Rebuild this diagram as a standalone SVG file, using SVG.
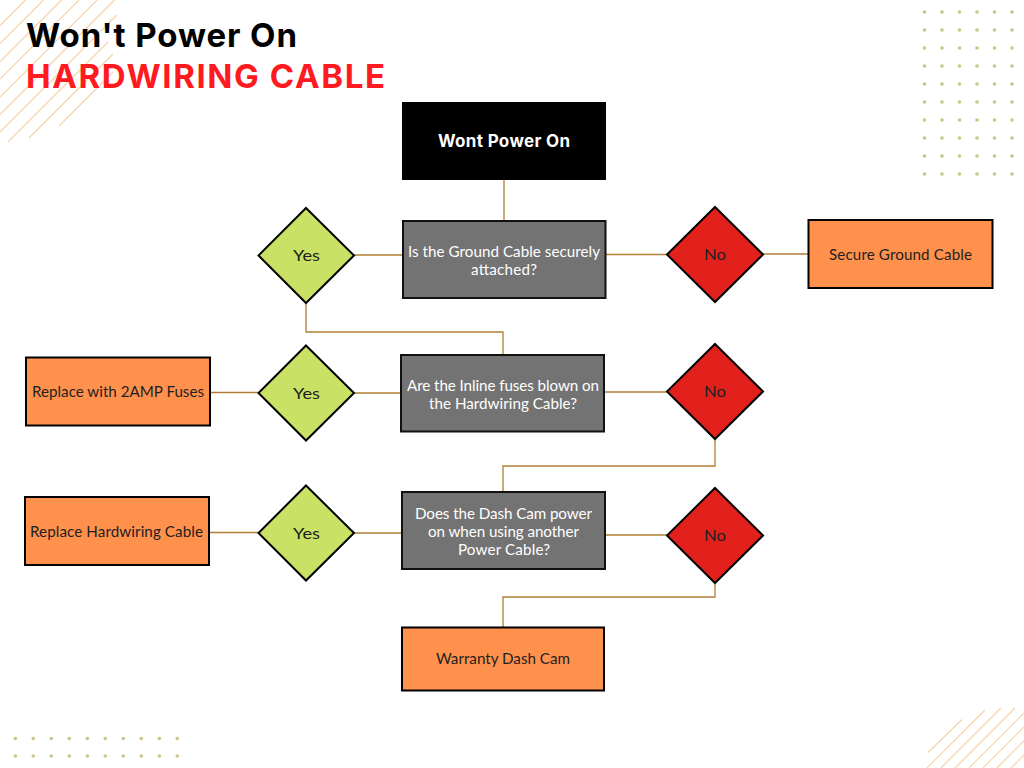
<svg xmlns="http://www.w3.org/2000/svg" width="1024" height="768" viewBox="0 0 1024 768">
<style>
text{font-family:Lato,"Open Sans",sans-serif;text-anchor:middle}
.t{font-family:Inter,"Liberation Sans",sans-serif;font-weight:700;text-anchor:start;font-size:33px}
.l{font-size:15.2px;fill:#1f1f1f}
.w{fill:#fff}
.g{fill:#737373;stroke:#111;stroke-width:2}
.o{fill:#ff914d;stroke:#000;stroke-width:2}
.y{fill:#c9e265;stroke:#000;stroke-width:2}
.r{fill:#e3211c;stroke:#000;stroke-width:2}
.c{fill:none;stroke:#b07f35;stroke-width:1.3}
.h{stroke:#f6d3a8;stroke-width:1.2;fill:none}
.d{fill:#cdc587}
</style>
<defs>
<circle id="dot" r="1.8" class="d"/>
</defs>
<g id="decor">
<path class="h" d="M0 25.500L25.500 0M0 43.500L43.500 0M0 61.500L61.500 0M0 79L79 0M0 97L97 0M0 114.500L114.500 0M0 132L117 15M8 142L108 42M29 138L113 54M59 126L113 72"/>
<path class="h" d="M928 752.500L962 719.500M927 768L985 710M941 768L1001 708M955 768L1015 708M969 768L1024 713M983 768L1024 727M997 768L1024 741M1011 768L1024 755"/>
<g id="dots-top"><use href="#dot" x="924.500" y="12"/><use href="#dot" x="942" y="12"/><use href="#dot" x="959.500" y="12"/><use href="#dot" x="977" y="12"/><use href="#dot" x="994.500" y="12"/><use href="#dot" x="1012" y="12"/><use href="#dot" x="924.500" y="30"/><use href="#dot" x="942" y="30"/><use href="#dot" x="959.500" y="30"/><use href="#dot" x="977" y="30"/><use href="#dot" x="994.500" y="30"/><use href="#dot" x="1012" y="30"/><use href="#dot" x="924.500" y="48"/><use href="#dot" x="942" y="48"/><use href="#dot" x="959.500" y="48"/><use href="#dot" x="977" y="48"/><use href="#dot" x="994.500" y="48"/><use href="#dot" x="1012" y="48"/><use href="#dot" x="924.500" y="66"/><use href="#dot" x="942" y="66"/><use href="#dot" x="959.500" y="66"/><use href="#dot" x="977" y="66"/><use href="#dot" x="994.500" y="66"/><use href="#dot" x="1012" y="66"/><use href="#dot" x="924.500" y="84"/><use href="#dot" x="942" y="84"/><use href="#dot" x="959.500" y="84"/><use href="#dot" x="977" y="84"/><use href="#dot" x="994.500" y="84"/><use href="#dot" x="1012" y="84"/><use href="#dot" x="924.500" y="102"/><use href="#dot" x="942" y="102"/><use href="#dot" x="959.500" y="102"/><use href="#dot" x="977" y="102"/><use href="#dot" x="994.500" y="102"/><use href="#dot" x="1012" y="102"/><use href="#dot" x="924.500" y="120"/><use href="#dot" x="942" y="120"/><use href="#dot" x="959.500" y="120"/><use href="#dot" x="977" y="120"/><use href="#dot" x="994.500" y="120"/><use href="#dot" x="1012" y="120"/><use href="#dot" x="924.500" y="138"/><use href="#dot" x="942" y="138"/><use href="#dot" x="959.500" y="138"/><use href="#dot" x="977" y="138"/><use href="#dot" x="994.500" y="138"/><use href="#dot" x="1012" y="138"/><use href="#dot" x="924.500" y="156"/><use href="#dot" x="942" y="156"/><use href="#dot" x="959.500" y="156"/><use href="#dot" x="977" y="156"/><use href="#dot" x="994.500" y="156"/><use href="#dot" x="1012" y="156"/><use href="#dot" x="924.500" y="174"/><use href="#dot" x="942" y="174"/><use href="#dot" x="959.500" y="174"/><use href="#dot" x="977" y="174"/><use href="#dot" x="994.500" y="174"/><use href="#dot" x="1012" y="174"/></g>
<g id="dots-bottom"><use href="#dot" x="15.300" y="738.500"/><use href="#dot" x="33.300" y="738.500"/><use href="#dot" x="51.300" y="738.500"/><use href="#dot" x="69.300" y="738.500"/><use href="#dot" x="87.300" y="738.500"/><use href="#dot" x="105.300" y="738.500"/><use href="#dot" x="123.300" y="738.500"/><use href="#dot" x="141.300" y="738.500"/><use href="#dot" x="159.300" y="738.500"/><use href="#dot" x="177.300" y="738.500"/><use href="#dot" x="15.300" y="756"/><use href="#dot" x="33.300" y="756"/><use href="#dot" x="51.300" y="756"/><use href="#dot" x="69.300" y="756"/><use href="#dot" x="87.300" y="756"/><use href="#dot" x="105.300" y="756"/><use href="#dot" x="123.300" y="756"/><use href="#dot" x="141.300" y="756"/><use href="#dot" x="159.300" y="756"/><use href="#dot" x="177.300" y="756"/></g>
</g>
<g id="title">
<text class="t" x="26" y="47" fill="#000" textLength="271" lengthAdjust="spacing">Won't Power On</text>
<text class="t" x="26" y="88" fill="#ff1a1f" textLength="359" lengthAdjust="spacing">HARDWIRING CABLE</text>
</g>
<g id="connectors">
<path class="c" d="M504 180V221M354 255H403M606 254.500H667M763 254H808M306 303V332H503V354M210 392.500H258M354 393H401M605 392H667M715 439V466H503V491M209 532.500H258M354 533H402M606 535H667M715 584V597H503V627"/>
</g>
<g id="n1"><rect x="402" y="102" width="204" height="78" fill="#000"/><text class="w" x="504" y="147" font-size="17" style="font-family:Inter,sans-serif" font-weight="700" textLength="132" lengthAdjust="spacing">Wont Power On</text></g>
<g id="n2"><rect class="g" x="403" y="221" width="202.500" height="77"/><text class="l w" x="504" y="256.500" textLength="192">Is the Ground Cable securely</text><text class="l w" x="504" y="274.500" textLength="66">attached?</text></g>
<g id="n3"><polygon class="y" points="306,208 354,255.500 306,303 258.500,255.500"/><text class="l" x="306.500" y="261" textLength="27" lengthAdjust="spacingAndGlyphs">Yes</text></g>
<g id="n4"><polygon class="r" points="715,207 763,254.500 715,302 667,254.500"/><text class="l" x="715" y="260" textLength="22" lengthAdjust="spacingAndGlyphs">No</text></g>
<g id="n5"><rect class="o" x="808.500" y="220" width="184" height="68"/><text class="l" x="900.500" y="259.500" textLength="143">Secure Ground Cable</text></g>
<g id="n6"><rect class="g" x="401" y="355" width="203" height="76.500"/><text class="l w" x="503" y="390.500" textLength="192">Are the Inline fuses blown on</text><text class="l w" x="503" y="408.500" textLength="148">the Hardwiring Cable?</text></g>
<g id="n7"><polygon class="y" points="306,345.500 354,393 306,440.500 258.500,393"/><text class="l" x="306.500" y="399" textLength="27" lengthAdjust="spacingAndGlyphs">Yes</text></g>
<g id="n8"><polygon class="r" points="715,344 763,391.500 715,439 667,391.500"/><text class="l" x="715" y="397" textLength="22" lengthAdjust="spacingAndGlyphs">No</text></g>
<g id="n9"><rect class="o" x="26" y="357.500" width="184" height="68"/><text class="l" x="118" y="396.500" textLength="172">Replace with 2AMP Fuses</text></g>
<g id="n10"><rect class="g" x="402" y="492" width="203" height="77"/><text class="l w" x="503.500" y="518.500" textLength="177">Does the Dash Cam power</text><text class="l w" x="503.500" y="536.500" textLength="151">on when using another</text><text class="l w" x="504" y="554.500" textLength="92">Power Cable?</text></g>
<g id="n11"><polygon class="y" points="306,485.500 354,533 306,580.500 258.500,533"/><text class="l" x="306.500" y="539" textLength="27" lengthAdjust="spacingAndGlyphs">Yes</text></g>
<g id="n12"><polygon class="r" points="715,488 763,535.500 715,583 667,535.500"/><text class="l" x="715" y="541" textLength="22" lengthAdjust="spacingAndGlyphs">No</text></g>
<g id="n13"><rect class="o" x="25" y="497" width="184" height="68"/><text class="l" x="116.500" y="536.500" textLength="173">Replace Hardwiring Cable</text></g>
<g id="n14"><rect class="o" x="402" y="627.500" width="202" height="63"/><text class="l" x="503" y="663.500" textLength="134">Warranty Dash Cam</text></g>
</svg>
